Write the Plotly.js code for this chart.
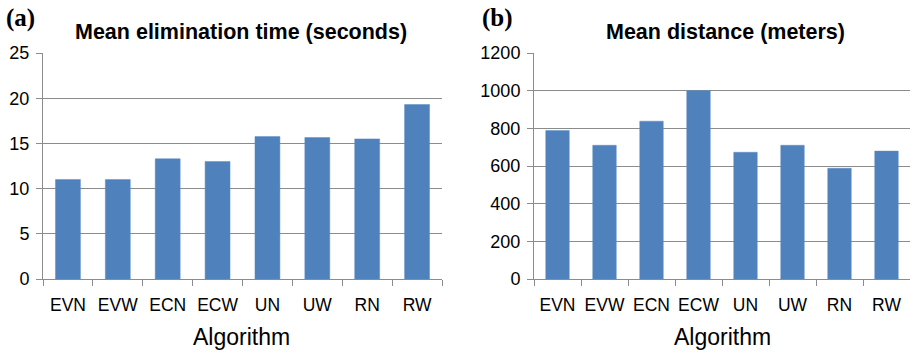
<!DOCTYPE html>
<html>
<head>
<meta charset="utf-8">
<script src="https://cdn.plot.ly/plotly-3.0.1.min.js"></script>
<style>html,body{margin:0;padding:0;background:#fff;}#chart{width:910px;height:350px;}</style>
</head>
<body>
<div id="chart"></div>
<script>
const algorithms = ["EVN", "EVW", "ECN", "ECW", "UN", "UW", "RN", "RW"];
const meanTime = [11.0, 11.0, 13.3, 13.0, 15.75, 15.65, 15.5, 19.3];
const meanDistance = [788, 710, 838, 1000, 673, 710, 588, 679];
const timeTicks = [0, 5, 10, 15, 20, 25];
const distTicks = [0, 200, 400, 600, 800, 1000, 1200];

const barColor = "#4F81BD";
const gridColor = "#8C8C8C";
const font = "Liberation Sans, Arial, sans-serif";

const traces = [
  {type: "bar", x: algorithms, y: meanTime, xaxis: "x", yaxis: "y",
   marker: {color: barColor, line: {color: "#5b8cc6", width: 0.5}}, hoverinfo: "x+y"},
  {type: "bar", x: algorithms, y: meanDistance, xaxis: "x2", yaxis: "y2",
   marker: {color: barColor, line: {color: "#5b8cc6", width: 0.5}}, hoverinfo: "x+y"}
];

const xCommon = {
  type: "category", showline: true, linecolor: gridColor, linewidth: 1,
  ticks: "outside", tickson: "boundaries", ticklen: 6, tickcolor: gridColor,
  showgrid: false, zeroline: false, tickangle: 0, ticklabelstandoff: 10,
  tickfont: {family: font, size: 17.5, color: "#000"}, automargin: false
};
const yCommon = {
  showline: true, linecolor: gridColor, linewidth: 1,
  ticks: "outside", ticklen: 6, tickcolor: gridColor,
  showgrid: true, gridcolor: gridColor, gridwidth: 1, zeroline: false,
  tickfont: {family: font, size: 18, color: "#000"}, automargin: false,
  tickmode: "array", ticklabelstandoff: 3
};

const layout = {
  width: 910, height: 350,
  margin: {l: 0, r: 0, t: 0, b: 0},
  paper_bgcolor: "#fff", plot_bgcolor: "#fff",
  showlegend: false, bargap: 0.5,
  xaxis: Object.assign({}, xCommon, {domain: [43/910, 442/910], anchor: "y"}),
  xaxis2: Object.assign({}, xCommon, {domain: [534/910, 1], anchor: "y2"}),
  yaxis: Object.assign({}, yCommon, {domain: [71/350, 297/350], anchor: "x", range: [0, 25], tickvals: timeTicks}),
  yaxis2: Object.assign({}, yCommon, {domain: [71/350, 297/350], anchor: "x2", range: [0, 1200], tickvals: distTicks}),
  annotations: [
    {text: "<b>(a)</b>", xref: "paper", yref: "paper", x: 4/910, y: 1 - 18/350, xanchor: "left", yanchor: "middle",
     showarrow: false, font: {family: "Liberation Serif, Times New Roman, serif", size: 25, color: "#000"}},
    {text: "<b>(b)</b>", xref: "paper", yref: "paper", x: 480/910, y: 1 - 18/350, xanchor: "left", yanchor: "middle",
     showarrow: false, font: {family: "Liberation Serif, Times New Roman, serif", size: 25, color: "#000"}},
    {text: "<b>Mean elimination time (seconds)</b>", xref: "paper", yref: "paper", x: 241/910, y: 1 - 32/350,
     xanchor: "center", yanchor: "middle", showarrow: false, font: {family: font, size: 21.5, color: "#000"}},
    {text: "<b>Mean distance (meters)</b>", xref: "paper", yref: "paper", x: 725/910, y: 1 - 32/350,
     xanchor: "center", yanchor: "middle", showarrow: false, font: {family: font, size: 21.5, color: "#000"}},
    {text: "Algorithm", xref: "paper", yref: "paper", x: 241/910, y: 1 - 337/350,
     xanchor: "center", yanchor: "middle", showarrow: false, font: {family: font, size: 23, color: "#000"}},
    {text: "Algorithm", xref: "paper", yref: "paper", x: 722/910, y: 1 - 337/350,
     xanchor: "center", yanchor: "middle", showarrow: false, font: {family: font, size: 23, color: "#000"}}
  ]
};

Plotly.newPlot("chart", traces, layout, {displayModeBar: false, staticPlot: true});
</script>
</body>
</html>
